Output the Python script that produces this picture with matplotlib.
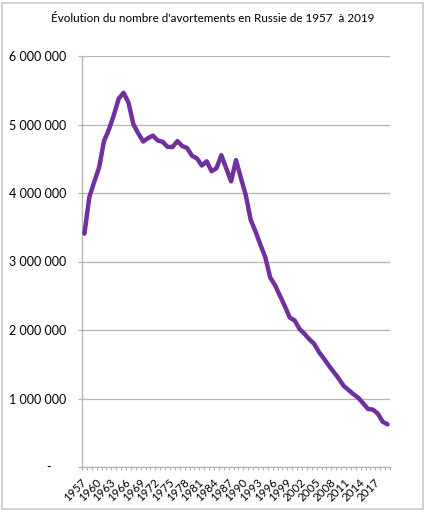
import numpy as np
import matplotlib
matplotlib.use("Agg")
import matplotlib.pyplot as plt
from matplotlib.ticker import FuncFormatter, MultipleLocator
from matplotlib.patches import Rectangle

# Données : nombre d'avortements en Russie
annees = list(range(1957, 2020))
avortements = [
    3407000, 3939000, 4163000, 4373000, 4759000, 4925000, 5135000, 5376000,
    5463000, 5322000, 5005000, 4872000, 4751000, 4800000, 4838000, 4766000,
    4747000, 4674000, 4671000, 4757000, 4686000, 4656000, 4544000, 4506000,
    4401000, 4463000, 4318000, 4361000, 4552000, 4360000, 4170000, 4480000,
    4220000, 3970000, 3608000, 3437000, 3244000, 3060000, 2766000, 2652000,
    2499000, 2346000, 2181000, 2139000, 2015000, 1944000, 1864000, 1797000,
    1675000, 1582000, 1479000, 1386000, 1292000, 1186000, 1125000, 1064000,
    1012000, 930000, 848000, 837000, 780000, 661000, 622000,
]
annees_etiquettes = list(range(1957, 2020, 3))

VIOLET = '#7030A0'
GRIS = '#b3b3b3'
plt.rcParams['font.family'] = ['Lato', 'DejaVu Sans']

fig = plt.figure(figsize=(4.26, 5.12), dpi=100, facecolor='white')
ax = fig.add_axes([82 / 426, 1 - 467 / 512, 308 / 426, 411 / 512])

# Cadre autour du graphique
fig.patches.append(Rectangle((2 / 426, 3 / 512), 421 / 426, 506 / 512,
                             transform=fig.transFigure, fill=False,
                             edgecolor='#c8c8c8', linewidth=1.2))

ax.plot(annees, avortements, color=VIOLET, linewidth=3.2,
        solid_joinstyle='round', solid_capstyle='round', zorder=3)

ax.set_xlim(annees[0] - 0.5, annees[-1] + 0.5)
ax.set_ylim(0, 6000000)

# Axe Y
ax.yaxis.set_major_locator(MultipleLocator(1000000))


def format_y(v, pos):
    if v == 0:
        return ''
    return f'{int(v):,}'.replace(',', ' ')


ax.yaxis.set_major_formatter(FuncFormatter(format_y))
ax.grid(axis='y', color=GRIS, linewidth=0.9)
ax.set_axisbelow(True)
ax.tick_params(axis='y', length=3, width=0.9, color=GRIS, labelsize=9, pad=8.5)
ax.text(-0.107, 0, '-', transform=ax.get_yaxis_transform(),
        ha='center', va='center', fontsize=9)

# Axe X
ax.set_xticks(annees_etiquettes)
ax.set_xticklabels([str(a) for a in annees_etiquettes], rotation=45,
                   ha='right', va='center', rotation_mode='anchor', fontsize=8.3)
ax.set_xticks([a - 0.5 for a in annees] + [annees[-1] + 0.5], minor=True)
ax.tick_params(axis='x', which='major', length=0, pad=10)
ax.tick_params(axis='x', which='minor', length=2.5, width=0.8, color=GRIS)

for s in ['top', 'right']:
    ax.spines[s].set_visible(False)
for s in ['left', 'bottom']:
    ax.spines[s].set_color(GRIS)
    ax.spines[s].set_linewidth(0.9)

fig.text(0.5, 1 - 18 / 512, "Évolution du nombre d'avortements en Russie de 1957  à 2019",
         ha='center', va='center', fontsize=8.4)

fig.savefig('out.png', dpi=100)
